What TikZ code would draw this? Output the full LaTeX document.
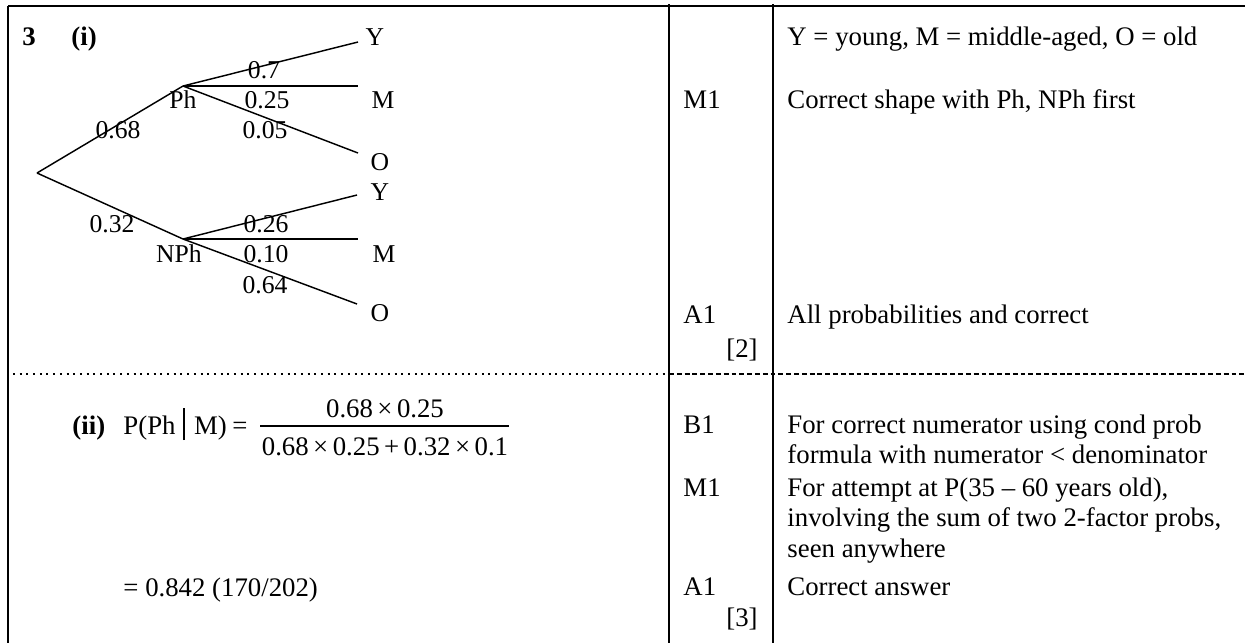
\documentclass[tikz,border=0pt]{standalone}
\usepackage{fontspec}
\setmainfont{Liberation Serif}
\usetikzlibrary{positioning}

\begin{document}
\begin{tikzpicture}[
    x=0.448pt, y=-0.448pt,
    rule/.style={line width=0.6pt},
    branch/.style={line width=0.65pt},
    lbl/.style={anchor=base, inner sep=0pt, font=\fontsize{11.5}{13}\selectfont},
    txt/.style={anchor=base west, inner sep=0pt, font=\fontsize{12}{13.8}\selectfont},
    bold/.style={txt, font=\fontsize{12}{13.8}\selectfont\bfseries},
    tot/.style={anchor=base east, inner sep=0pt, font=\fontsize{12}{13.8}\selectfont},
    frac/.style={anchor=base, inner sep=0pt, font=\fontsize{12}{13.8}\selectfont}
  ]
  \useasboundingbox (0,0) rectangle (1245,643);

  % table frame
  \coordinate (tl) at (8,6);
  \coordinate (tr) at (1245,6);
  \coordinate (bl) at (8,643);
  \coordinate (colAt) at (669,4);
  \coordinate (colAb) at (669,643);
  \coordinate (colBt) at (773,4);
  \coordinate (colBb) at (773,643);
  \coordinate (sepL) at (13,374);
  \coordinate (sepM) at (669,374);
  \coordinate (sepR) at (1245,374);
  \draw[rule] (tl) -- (tr);
  \draw[rule] (tl) -- (bl);
  \draw[rule] (colAt) -- (colAb);
  \draw[rule] (colBt) -- (colBb);
  \draw[rule, line width=0.8pt, dash pattern=on 0.9pt off 2.1pt] (sepL) -- (sepM);
  \draw[rule, dash pattern=on 2.2pt off 1.3pt] (sepM) -- (sepR);

  % tree diagram
  \coordinate (root) at (37,173);
  \coordinate (ph) at (183,86);
  \coordinate (nph) at (183,239);
  \coordinate (phY) at (358,42);
  \coordinate (phM) at (358,86);
  \coordinate (phO) at (358,153);
  \coordinate (nphY) at (357,195);
  \coordinate (nphM) at (358,239);
  \coordinate (nphO) at (357,304);
  \draw[branch] (root) -- (ph);
  \draw[branch] (root) -- (nph);
  \draw[branch] (ph) -- (phY);
  \draw[branch] (ph) -- (phM);
  \draw[branch] (ph) -- (phO);
  \draw[branch] (nph) -- (nphY);
  \draw[branch] (nph) -- (nphM);
  \draw[branch] (nph) -- (nphO);

  \node[bold] (qnum) at (22,45) {3};
  \node[bold] (parti) at (71,45) {(i)};
  \node[lbl] (phtxt) at (183,108) {Ph};
  \node[lbl] (nphtxt) at (179,262) {NPh};
  \node[lbl] (pPh) at (118,138) {0.68};
  \node[lbl] (pNPh) at (112,232) {0.32};
  \node[lbl] (pPhY) at (264,78) {0.7};
  \node[lbl] (pPhM) at (267,108) {0.25};
  \node[lbl] (pPhO) at (265,138) {0.05};
  \node[lbl] (pNPhY) at (266,232) {0.26};
  \node[lbl] (pNPhM) at (266,262) {0.10};
  \node[lbl] (pNPhO) at (265,293) {0.64};
  \node[lbl] (lPhY) at (375,45) {Y};
  \node[lbl] (lPhM) at (383,108) {M};
  \node[lbl] (lPhO) at (380,170) {O};
  \node[lbl] (lNPhY) at (380,200) {Y};
  \node[lbl] (lNPhM) at (384,262) {M};
  \node[lbl] (lNPhO) at (380,321) {O};

  % part (ii)
  \node[bold] (partii) at (72,434) {(ii)};
  \node[txt] (lhs) at (123,434) {P(Ph\hspace{3.5pt}\rule[-2.7pt]{0.8pt}{14.3pt}\hspace{4pt}M)\hspace{2.5pt}=};
  \node[frac] (numer) at (385,417) {0.68\,×\,0.25};
  \node[frac] (denom) at (385,455) {0.68\,×\,0.25\,+\,0.32\,×\,0.1};
  \coordinate (barL) at (260,426);
  \coordinate (barR) at (509,426);
  \draw[line width=0.6pt] (barL) -- (barR);
  \node[txt] (answer) at (123,596) {= 0.842 (170/202)};

  % marks and comments
  \node[txt] (key) at (787,45) {Y = young, M = middle-aged, O = old};
  \node[txt] (mkMa) at (683,108) {M1};
  \node[txt] (cmShape) at (787,108) {Correct shape with Ph, NPh first};
  \node[txt] (mkAa) at (683,323) {A1};
  \node[txt] (cmProbs) at (787,323) {All probabilities and correct};
  \node[tot] (totA) at (758,357) {[2]};
  \node[txt] (mkB) at (683,433) {B1};
  \node[txt] (cmNumA) at (787,433) {For correct numerator using cond prob};
  \node[txt] (cmNumB) at (787,463) {formula with numerator < denominator};
  \node[txt] (mkMb) at (683,496) {M1};
  \node[txt] (cmSumA) at (787,496) {For attempt at P(35 -- 60 years old),};
  \node[txt] (cmSumB) at (787,526) {involving the sum of two 2-factor probs,};
  \node[txt] (cmSumC) at (787,557) {seen anywhere};
  \node[txt] (mkAb) at (683,595) {A1};
  \node[txt] (cmAns) at (787,595) {Correct answer};
  \node[tot] (totB) at (758,626) {[3]};
\end{tikzpicture}
\end{document}
